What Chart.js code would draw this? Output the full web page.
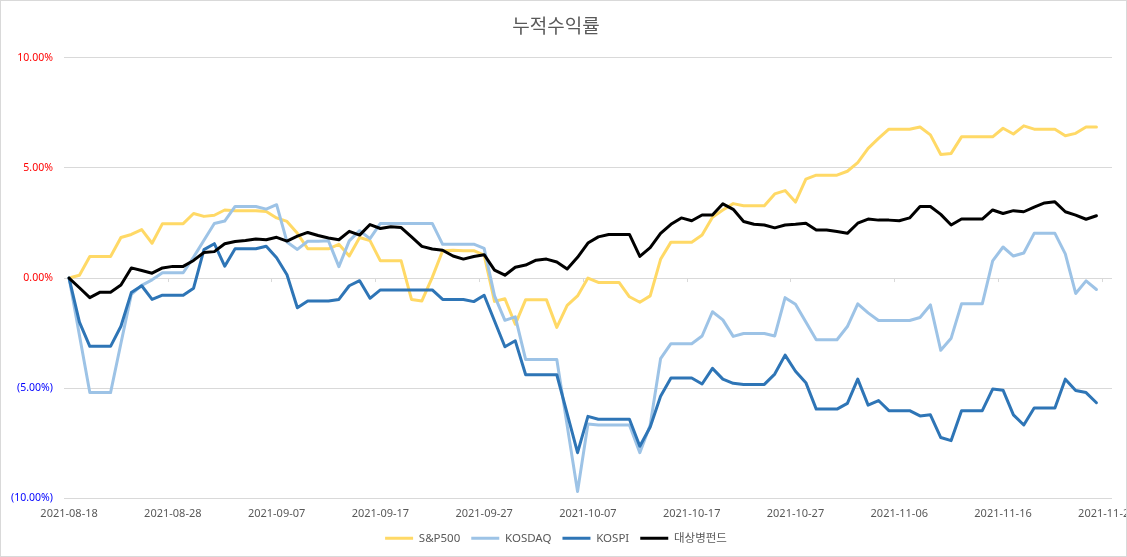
<!DOCTYPE html>
<html><head><meta charset="utf-8">
<script src="https://cdn.jsdelivr.net/npm/chart.js@4.4.0/dist/chart.umd.min.js"></script>
<style>
html,body{margin:0;padding:0;background:#fff;overflow:hidden;}
#wrap{position:relative;width:1127px;height:557px;background:#fff;}
#frame{position:absolute;left:0;top:0;width:1125px;height:555px;border:1px solid #d9d9d9;pointer-events:none;}
</style></head><body>
<div id="wrap"><canvas id="c" width="1127" height="557"></canvas><div id="frame"></div></div>
<script>
const dates = [
'2021-08-18','2021-08-19','2021-08-20','2021-08-21','2021-08-22','2021-08-23','2021-08-24','2021-08-25','2021-08-26','2021-08-27',
'2021-08-28','2021-08-29','2021-08-30','2021-08-31','2021-09-01','2021-09-02','2021-09-03','2021-09-04','2021-09-05','2021-09-06',
'2021-09-07','2021-09-08','2021-09-09','2021-09-10','2021-09-11','2021-09-12','2021-09-13','2021-09-14','2021-09-15','2021-09-16',
'2021-09-17','2021-09-18','2021-09-19','2021-09-20','2021-09-21','2021-09-22','2021-09-23','2021-09-24','2021-09-25','2021-09-26',
'2021-09-27','2021-09-28','2021-09-29','2021-09-30','2021-10-01','2021-10-02','2021-10-03','2021-10-04','2021-10-05','2021-10-06',
'2021-10-07','2021-10-08','2021-10-09','2021-10-10','2021-10-11','2021-10-12','2021-10-13','2021-10-14','2021-10-15','2021-10-16',
'2021-10-17','2021-10-18','2021-10-19','2021-10-20','2021-10-21','2021-10-22','2021-10-23','2021-10-24','2021-10-25','2021-10-26',
'2021-10-27','2021-10-28','2021-10-29','2021-10-30','2021-10-31','2021-11-01','2021-11-02','2021-11-03','2021-11-04','2021-11-05',
'2021-11-06','2021-11-07','2021-11-08','2021-11-09','2021-11-10','2021-11-11','2021-11-12','2021-11-13','2021-11-14','2021-11-15',
'2021-11-16','2021-11-17','2021-11-18','2021-11-19','2021-11-20','2021-11-21','2021-11-22','2021-11-23','2021-11-24','2021-11-25',
'2021-11-26'
];
const seriesNames = ['S&P500','KOSDAQ','KOSPI','대상병펀드'];
const sp500 = [
0,0.13,0.98,0.98,0.98,1.84,1.98,2.2,1.58,2.47,
2.47,2.47,2.93,2.8,2.85,3.09,3.06,3.06,3.06,3.02,
2.73,2.57,2.03,1.33,1.33,1.33,1.53,1.0,1.84,1.7,
0.78,0.78,0.78,-0.97,-1.04,0.03,1.24,1.26,1.24,1.24,
1.04,-1.06,-0.94,-2.1,-0.98,-0.98,-0.98,-2.24,-1.24,-0.81,
0.0,-0.2,-0.2,-0.2,-0.85,-1.1,-0.81,0.85,1.63,1.63,
1.63,1.95,2.76,3.09,3.38,3.28,3.28,3.28,3.82,3.97,
3.45,4.49,4.67,4.67,4.67,4.85,5.24,5.89,6.34,6.76,
6.76,6.76,6.86,6.5,5.61,5.66,6.41,6.41,6.41,6.41,
6.8,6.54,6.91,6.76,6.76,6.76,6.46,6.57,6.86,6.86
];
const kosdaq = [
0,-2.6,-5.2,-5.2,-5.2,-2.96,-0.74,-0.33,-0.08,0.24,
0.24,0.24,0.95,1.72,2.48,2.59,3.25,3.25,3.25,3.13,
3.33,1.64,1.3,1.67,1.67,1.69,0.52,1.69,2.15,1.79,
2.48,2.48,2.48,2.48,2.48,2.48,1.53,1.54,1.54,1.54,
1.35,-0.81,-1.92,-1.76,-3.7,-3.7,-3.7,-3.7,-6.7,-9.69,
-6.63,-6.67,-6.67,-6.67,-6.67,-7.93,-6.67,-3.66,-2.98,-2.98,
-2.98,-2.63,-1.53,-1.9,-2.65,-2.52,-2.52,-2.52,-2.63,-0.89,
-1.19,-2.0,-2.8,-2.8,-2.8,-2.2,-1.17,-1.58,-1.93,-1.93,
-1.93,-1.93,-1.79,-1.22,-3.28,-2.73,-1.17,-1.17,-1.17,0.78,
1.41,1.0,1.14,2.03,2.03,2.03,1.1,-0.7,-0.13,-0.52
];
const kospi = [
0,-2.0,-3.1,-3.1,-3.1,-2.19,-0.66,-0.35,-0.97,-0.78,
-0.78,-0.78,-0.46,1.29,1.56,0.54,1.33,1.33,1.33,1.44,
0.92,0.15,-1.35,-1.04,-1.04,-1.04,-0.97,-0.35,-0.12,-0.92,
-0.54,-0.54,-0.54,-0.54,-0.54,-0.54,-0.97,-0.97,-0.97,-1.07,
-0.78,-1.95,-3.12,-2.85,-4.39,-4.39,-4.39,-4.39,-6.16,-7.93,
-6.28,-6.41,-6.41,-6.41,-6.41,-7.64,-6.76,-5.37,-4.54,-4.54,
-4.54,-4.81,-4.1,-4.59,-4.78,-4.83,-4.83,-4.83,-4.36,-3.5,
-4.23,-4.75,-5.95,-5.95,-5.95,-5.69,-4.59,-5.77,-5.56,-6.02,
-6.02,-6.02,-6.26,-6.21,-7.24,-7.38,-6.02,-6.02,-6.02,-5.04,
-5.09,-6.21,-6.67,-5.9,-5.9,-5.9,-4.59,-5.11,-5.2,-5.66
];
const fund = [
0,-0.44,-0.89,-0.64,-0.64,-0.32,0.46,0.34,0.22,0.46,
0.53,0.53,0.8,1.16,1.2,1.56,1.66,1.7,1.77,1.74,
1.85,1.68,1.9,2.07,1.93,1.82,1.74,2.12,1.95,2.43,
2.25,2.33,2.29,1.87,1.44,1.32,1.26,1.0,0.86,0.98,
1.06,0.36,0.13,0.49,0.59,0.81,0.86,0.73,0.41,0.94,
1.59,1.87,1.98,1.98,1.98,0.98,1.38,2.03,2.44,2.73,
2.6,2.86,2.86,3.37,3.12,2.57,2.44,2.41,2.28,2.41,
2.44,2.49,2.18,2.18,2.11,2.03,2.49,2.68,2.63,2.63,
2.6,2.73,3.25,3.25,2.89,2.41,2.68,2.68,2.68,3.09,
2.93,3.06,3.01,3.22,3.41,3.46,3.01,2.86,2.67,2.83
];
const yTicks = [-10,-5,0,5,10];
const colors = ['#FFD966','#9DC3E6','#2E75B6','#000000'];

Chart.defaults.font.family = "'Noto Sans','Noto Sans CJK KR',sans-serif";
Chart.defaults.color = '#595959';

const zeroTicks = {
  id:'zeroTicks',
  afterDatasetsDraw(chart){
    const xs = chart.scales.x, ys = chart.scales.y;
    const y0 = ys.getPixelForValue(0);
    const half = (xs.getPixelForValue(1) - xs.getPixelForValue(0))/2;
    const ctx = chart.ctx;
    ctx.save(); ctx.strokeStyle='#d9d9d9'; ctx.lineWidth=1;
    for(let i=10;i<dates.length;i+=10){
      const x = Math.round(xs.getPixelForValue(i) - half)+0.5;
      ctx.beginPath(); ctx.moveTo(x,y0); ctx.lineTo(x,y0+4); ctx.stroke();
    }
    ctx.restore();
  }
};

const series = [sp500,kosdaq,kospi,fund];
new Chart(document.getElementById('c'),{
  type:'line',
  data:{
    labels:dates,
    datasets:series.map((d,k)=>({
      label:seriesNames[k], data:d, borderColor:colors[k], backgroundColor:colors[k],
      borderWidth:3, pointRadius:0, tension:0, borderJoinStyle:'round', borderCapStyle:'round',
      fill:false, order:4-k
    }))
  },
  options:{
    responsive:false, animation:false,
    layout:{padding:{left:0,right:15,top:0,bottom:3}},
    plugins:{
      tooltip:{enabled:false},
      title:{display:true,text:'누적수익률',color:'#595959',font:{size:19,weight:'normal'},padding:{top:16,bottom:19}},
      legend:{position:'bottom',labels:{usePointStyle:true,pointStyle:'line',pointStyleWidth:28,boxHeight:12,color:'#595959',font:{size:11.5},padding:11,
        sort:(a,b)=>a.datasetIndex-b.datasetIndex}}
    },
    scales:{
      x:{type:'category',offset:true,grid:{display:false},border:{display:false},
        afterFit:(s)=>{s.paddingRight=0;},
        ticks:{autoSkip:false,maxRotation:0,minRotation:0,padding:1,color:'#595959',font:{size:11},
          callback:(v,i)=> (i%10===0 ? dates[i] : '')}},
      y:{min:-10,max:10,
        afterBuildTicks:(s)=>{s.ticks=yTicks.map(v=>({value:v}));},
        grid:{color:'#d9d9d9',drawTicks:false},border:{display:false},
        ticks:{padding:11,font:{size:10.5},
          color:(c)=> (c.tick && c.tick.value<0 ? '#0000FF' : '#FF0000'),
          callback:(v)=> v<0 ? '('+Math.abs(v).toFixed(2)+'%)' : v.toFixed(2)+'%'}}
    }
  },
  plugins:[zeroTicks]
});
</script>
</body></html>
